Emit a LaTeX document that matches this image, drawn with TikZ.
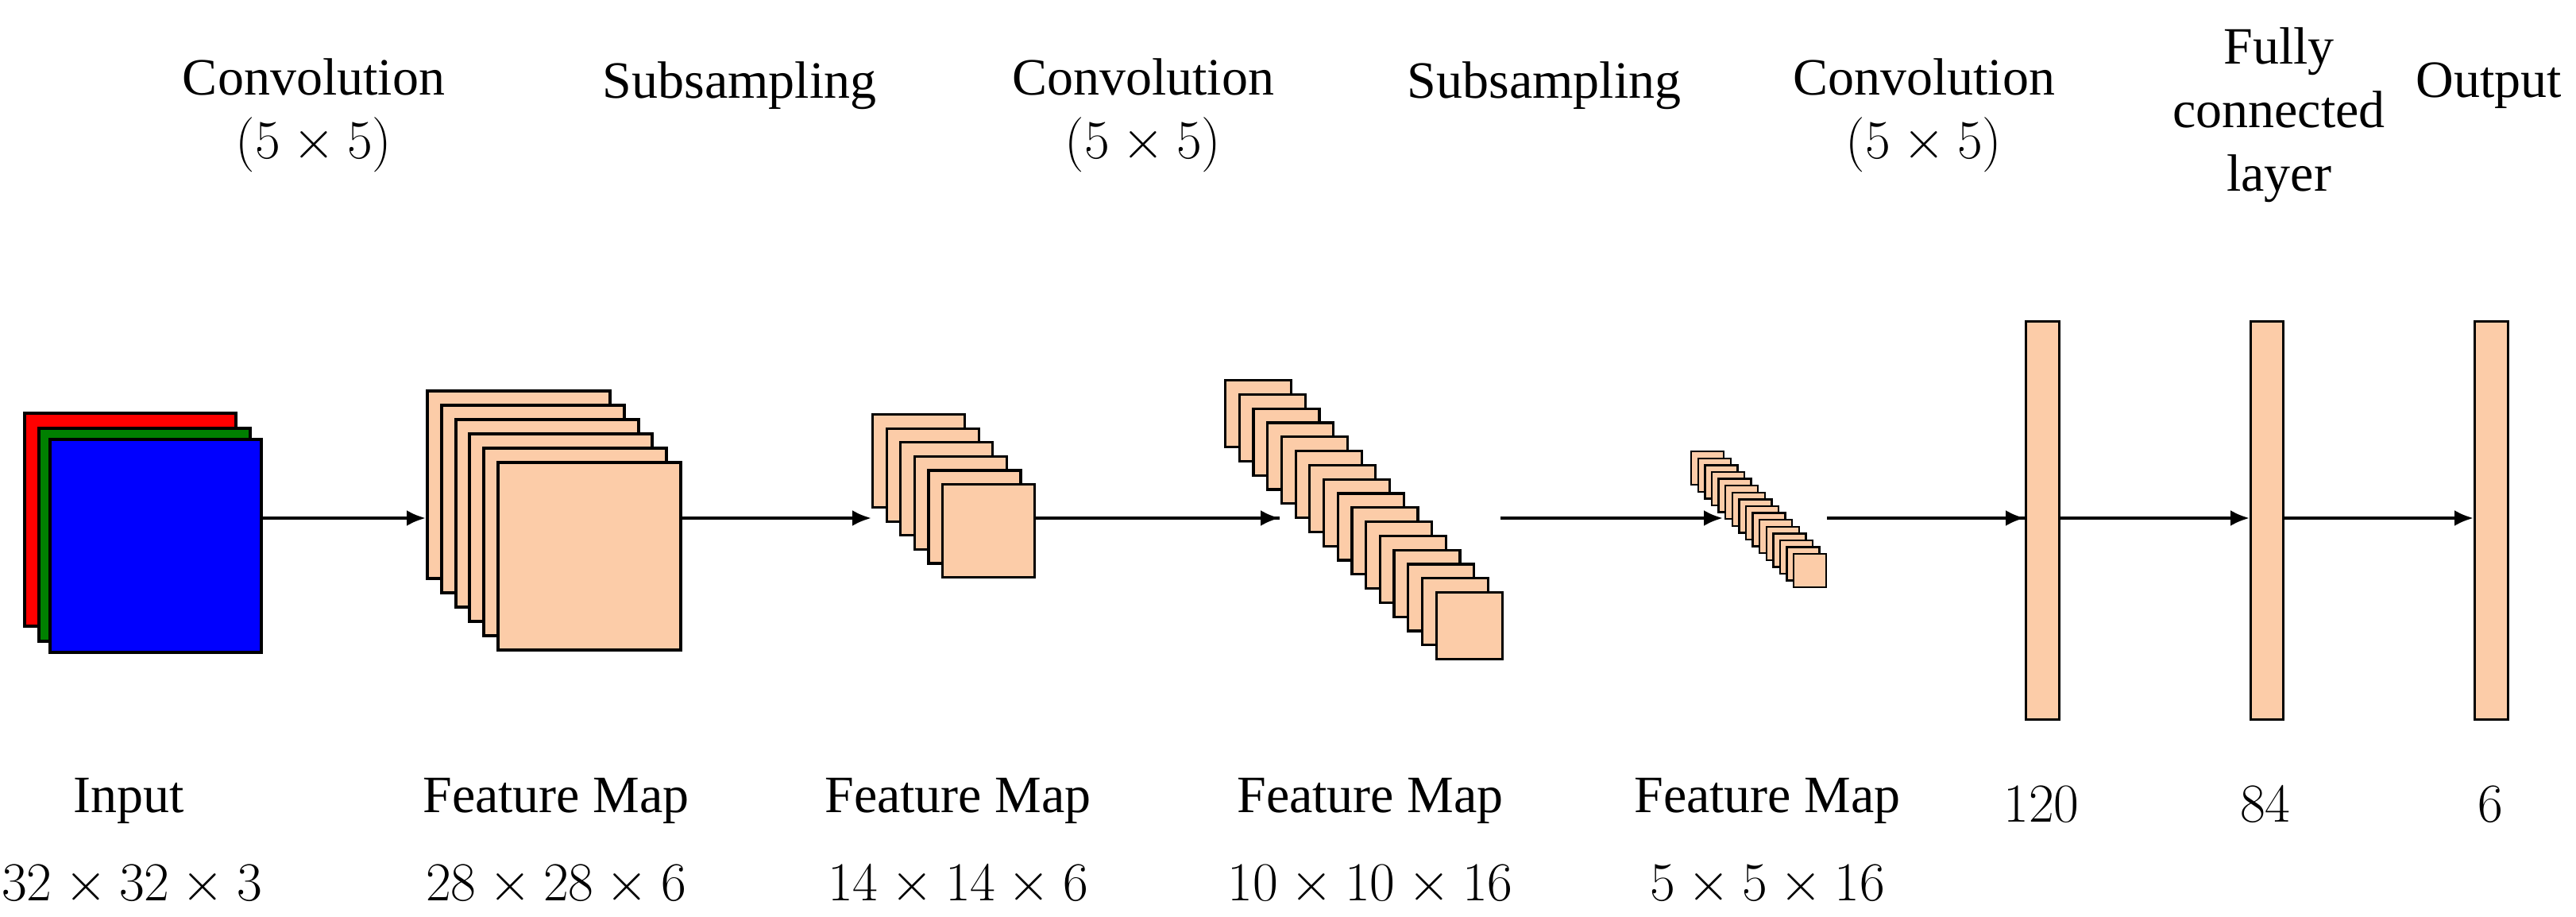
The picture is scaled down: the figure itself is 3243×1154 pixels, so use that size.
\documentclass[tikz,border=0pt]{standalone}
\usepackage{fontspec}
\setmainfont{Liberation Serif}
\usetikzlibrary{arrows.meta}
\definecolor{peach}{RGB}{252,204,168}
\definecolor{dgreen}{RGB}{0,128,0}
\begin{document}
\begin{tikzpicture}[x=0.25pt,y=-0.25pt,
  lbl/.style={font=\fontsize{16.5}{20}\selectfont, align=center},
  fm/.style={draw=black, line width=0.8pt, fill=peach, inner sep=0pt, anchor=north west},
  arr/.style={line width=1pt, -{Latex[length=6pt,width=5pt]}}]
\useasboundingbox (0,0) rectangle (3243,1154);
% input
\node[fm, fill=red, line width=1pt, minimum width=266*0.25pt, minimum height=268*0.25pt] (inR) at (29,518) {};
\node[fm, fill=dgreen, line width=1pt, minimum width=266*0.25pt, minimum height=268*0.25pt] (inG) at (47,537) {};
\node[fm, fill=blue, line width=1pt, minimum width=266*0.25pt, minimum height=268*0.25pt] (inB) at (61,551) {};
% FM1
\foreach \i in {0,...,5}{
  \node[fm, line width=1pt, minimum width=230*0.25pt, minimum height=236*0.25pt] (a\i) at ({536+17.8*\i},{490+18*\i}) {};}
% FM2
\foreach \i in {0,...,5}{
  \node[fm, minimum width=116*0.25pt, minimum height=117*0.25pt] (b\i) at ({1097+17.6*\i},{520+17.6*\i}) {};}
% FM3
\foreach \i in {0,...,15}{
  \node[fm, minimum width=83*0.25pt, minimum height=84*0.25pt] (c\i) at ({1541+17.7*\i},{477+17.8*\i}) {};}
% FM4
\foreach \i in {0,...,15}{
  \node[fm, line width=0.6pt, minimum width=41*0.25pt, minimum height=42*0.25pt] (d\i) at ({2128+8.6*\i},{567+8.6*\i}) {};}
% FC bars
\node[fm, minimum width=42*0.25pt, minimum height=501*0.25pt] (f1) at (2549,403) {};
\node[fm, minimum width=41*0.25pt, minimum height=501*0.25pt] (f2) at (2832,403) {};
\node[fm, minimum width=42*0.25pt, minimum height=501*0.25pt] (f3) at (3114,403) {};
% connectors
\coordinate (t3) at (1611,652);
\coordinate (s3) at (1889,652);
\coordinate (t4) at (2169,652);
\draw[arr] (inB.east|-0,652) -- (a0.west|-0,652);
\draw[arr] (a5.east|-0,652) -- (b0.west|-0,652);
\draw[line width=1pt] (b5.east|-0,652) -- (t3);
\draw[arr] (b5.east|-0,652) -- (t3);
\draw[arr] (s3) -- (t4);
\draw[line width=1pt] (d15.east|-0,652) -- (f1.west|-0,652);
\draw[arr] (d15.east|-0,652) -- (f1.west|-0,652);
\draw[arr] (f1.east|-0,652) -- (f2.west|-0,652);
\draw[arr] (f2.east|-0,652) -- (f3.west|-0,652);
% top labels
\node[lbl] (l1) at (395,145) {Convolution\\$(5\times5)$};
\node[lbl] (l2) at (931,108) {Subsampling};
\node[lbl] (l3) at (1439,145) {Convolution\\$(5\times5)$};
\node[lbl] (l4) at (1944,108) {Subsampling};
\node[lbl] (l5) at (2422,145) {Convolution\\$(5\times5)$};
\node[lbl] (l6) at (2869,145) {Fully\\connected\\layer};
\node[lbl] (l7) at (3133,108) {Output};
% bottom labels
\node[lbl] (b1) at (162,1008) {Input};
\node[lbl] (n1) at (166,1114) {$32\times32\times3$};
\node[lbl] (b2) at (700,1008) {Feature Map};
\node[lbl] (n2) at (700,1114) {$28\times28\times6$};
\node[lbl] (b3) at (1206,1008) {Feature Map};
\node[lbl] (n3) at (1206,1114) {$14\times14\times6$};
\node[lbl] (b4) at (1725,1008) {Feature Map};
\node[lbl] (n4) at (1725,1114) {$10\times10\times16$};
\node[lbl] (b5) at (2225,1008) {Feature Map};
\node[lbl] (n5) at (2225,1114) {$5\times5\times16$};
\node[lbl] (o1) at (2570,1012) {$120$};
\node[lbl] (o2) at (2852,1012) {$84$};
\node[lbl] (o3) at (3135,1012) {$6$};
\end{tikzpicture}
\end{document}
